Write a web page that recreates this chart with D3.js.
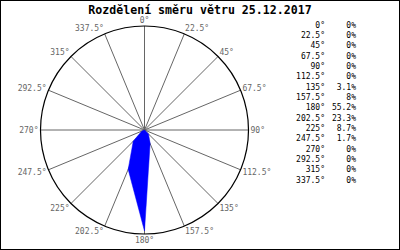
<!DOCTYPE html>
<html>
<head>
<meta charset="utf-8">
<script src="https://cdn.jsdelivr.net/npm/d3@7"></script>
<style>
  body { margin: 0; background: #fff; }
  svg { display: block; }
</style>
</head>
<body>
<div id="chart"></div>
<script>
// Wind direction data
var titleText = "Rozdělení směru větru 25.12.2017";
var directions = [0, 22.5, 45, 67.5, 90, 112.5, 135, 157.5, 180, 202.5, 225, 247.5, 270, 292.5, 315, 337.5];
var dirLabels = ["0°", "22.5°", "45°", "67.5°", "90°", "112.5°", "135°", "157.5°", "180°", "202.5°", "225°", "247.5°", "270°", "292.5°", "315°", "337.5°"];
var percents = [0, 0, 0, 0, 0, 0, 3.1, 8, 55.2, 23.3, 8.7, 1.7, 0, 0, 0, 0];

var width = 400;
var height = 250;
var cx = 144.5, cy = 130, radius = 104;

var svg = d3.select("#chart")
  .append("svg")
  .attr("width", width)
  .attr("height", height);

// Frame
svg.append("rect")
  .attr("x", 0.5).attr("y", 0.5)
  .attr("width", width - 1).attr("height", height - 1)
  .attr("fill", "#fff")
  .attr("stroke", "#000");

// Title
svg.append("text")
  .attr("x", 200)
  .attr("y", 14)
  .attr("text-anchor", "middle")
  .style("font-family", "DejaVu Sans Mono")
  .style("font-weight", "bold")
  .style("font-size", "11.6px")
  .attr("fill", "#000")
  .text(titleText);

var angle = d3.scaleLinear().domain([0, 360]).range([0, 2 * Math.PI]);
var r = d3.scaleLinear().domain([0, d3.max(percents)]).range([0, 101]);

var g = svg.append("g").attr("transform", `translate(${cx},${cy})`);

// Spokes
g.selectAll("line.spoke")
  .data(directions)
  .enter()
  .append("line")
  .attr("class", "spoke")
  .attr("x1", 0).attr("y1", 0)
  .attr("x2", function(d) { return radius * Math.sin(angle(d)); })
  .attr("y2", function(d) { return -radius * Math.cos(angle(d)); })
  .attr("stroke", "#666")
  .attr("stroke-width", 1);

// Outer circle
g.append("circle")
  .attr("r", radius)
  .attr("fill", "none")
  .attr("stroke", "#000")
  .attr("stroke-width", 1.2);

// Rose polygon
var rose = d3.lineRadial()
  .angle(function(d, i) { return angle(directions[i]); })
  .radius(function(d) { return r(d); })
  .curve(d3.curveLinearClosed);

g.append("path")
  .attr("d", rose(percents))
  .attr("fill", "#0000ff")
  .attr("stroke", "#0000ff")
  .attr("stroke-width", 0.5);

// Direction labels around the circle
g.selectAll("text.dir")
  .data(directions)
  .enter()
  .append("text")
  .attr("class", "dir")
  .attr("x", function(d) { return 106 * Math.sin(angle(d)); })
  .attr("y", function(d) { return -106 * Math.cos(angle(d)) - 4 * Math.cos(angle(d)); })
  .attr("dy", "0.35em")
  .attr("text-anchor", function(d) {
    var s = Math.sin(angle(d));
    return s > 0.1 ? "start" : (s < -0.1 ? "end" : "middle");
  })
  .style("font-family", "DejaVu Sans Mono")
  .style("font-size", "8px")
  .attr("fill", "#666")
  .text(function(d, i) { return dirLabels[i]; });

// Legend table
var rowY = d3.scaleLinear().domain([0, directions.length - 1]).range([25, 180]);

var legend = svg.append("g")
  .style("font-family", "DejaVu Sans Mono")
  .style("font-size", "8px")
  .attr("fill", "#000");

legend.selectAll("text.ldir")
  .data(dirLabels)
  .enter()
  .append("text")
  .attr("class", "ldir")
  .attr("x", 325)
  .attr("y", function(d, i) { return rowY(i); })
  .attr("dy", "0.35em")
  .attr("text-anchor", "end")
  .text(function(d) { return d; });

legend.selectAll("text.lpct")
  .data(percents)
  .enter()
  .append("text")
  .attr("class", "lpct")
  .attr("x", 356)
  .attr("y", function(d, i) { return rowY(i); })
  .attr("dy", "0.35em")
  .attr("text-anchor", "end")
  .text(function(d) { return d + "%"; });
</script>
</body>
</html>
